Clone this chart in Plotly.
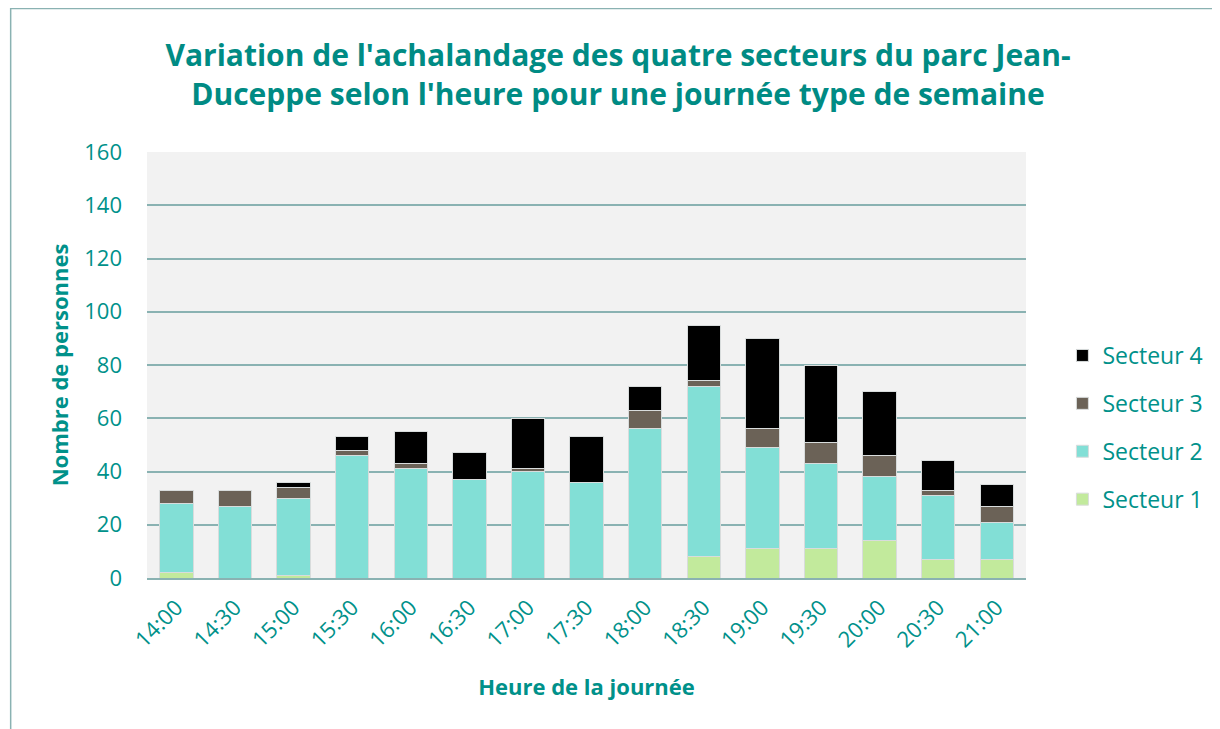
import plotly.graph_objects as go

heures = ["14:00", "14:30", "15:00", "15:30", "16:00", "16:30", "17:00", "17:30",
          "18:00", "18:30", "19:00", "19:30", "20:00", "20:30", "21:00"]
secteur1 = [2, 0, 1, 0, 0, 0, 0, 0, 0, 8, 11, 11, 14, 7, 7]
secteur2 = [26, 27, 29, 46, 41, 37, 40, 36, 56, 64, 38, 32, 24, 24, 14]
secteur3 = [5, 6, 4, 2, 2, 0, 1, 0, 7, 2, 7, 8, 8, 2, 6]
secteur4 = [0, 0, 2, 5, 12, 10, 19, 17, 9, 21, 34, 29, 24, 11, 8]

series = [("Secteur 1", secteur1, "#c2ea9c"),
          ("Secteur 2", secteur2, "#82dfd6"),
          ("Secteur 3", secteur3, "#6b6257"),
          ("Secteur 4", secteur4, "#000000")]

TEAL = "#00918a"
FONT = "Open Sans"

fig = go.Figure()
for i, (name, vals, col) in enumerate(series):
    fig.add_trace(go.Bar(x=heures, y=vals, name=name, legendgroup=name,
                         legendrank=1000 - i,
                         marker=dict(color=col, line=dict(color="#d8dcdc", width=1))))

# page body has an 8px offset, so figure coordinates are page coordinates minus 8
W, H = 1212, 721
L, R, T, B = 139, 1032, 144, 570
pw, ph = R - L, B - T

fig.update_layout(
    width=W, height=H,
    margin=dict(l=L, r=W - R, t=T, b=H - B),
    barmode="stack", bargap=0.43,
    paper_bgcolor="white", plot_bgcolor="#f2f2f2",
    font=dict(family=FONT, color=TEAL, size=22),
    title=dict(text="Variation de l'achalandage des quatre secteurs du parc Jean-<br>Duceppe selon l'heure pour une journée type de semaine",
               x=610 / W, xref="container", xanchor="center",
               y=1 - 58 / H, yref="container", yanchor="top",
               font=dict(family=FONT, size=30, color="#008b84", weight="bold")),
    legend=dict(x=(1069 - L) / pw, xanchor="left", y=(B - 326) / ph, yanchor="top",
                traceorder="grouped", tracegroupgap=15,
                font=dict(size=23, color=TEAL), bgcolor="rgba(0,0,0,0)"),
    showlegend=True,
)
fig.update_xaxes(showgrid=False, tickangle=-45, showline=True, linecolor="#8ab2b2",
                 linewidth=2, ticks="", ticklabelstandoff=6,
                 tickfont=dict(size=22, color=TEAL),
                 title=dict(text="Heure de la journée", standoff=28,
                            font=dict(size=22, color=TEAL, weight="bold")))
fig.update_yaxes(range=[0, 160], dtick=20, showgrid=True, gridcolor="#8ab2b2",
                 gridwidth=1.5, zeroline=False, ticks="", ticklabelstandoff=24,
                 tickfont=dict(size=22, color=TEAL),
                 title=dict(text="Nombre de personnes", standoff=9,
                            font=dict(size=22, color=TEAL, weight="bold")))

fig.add_shape(type="rect", xref="paper", yref="paper",
              x0=(0.5 - L) / pw, x1=(1230 - L) / pw,
              y0=(B - 735) / ph, y1=1 + (T - 0.5) / ph,
              line=dict(color="#8ab2b2", width=1.5), fillcolor="rgba(0,0,0,0)", layer="below")

fig.write_html("out.html")
